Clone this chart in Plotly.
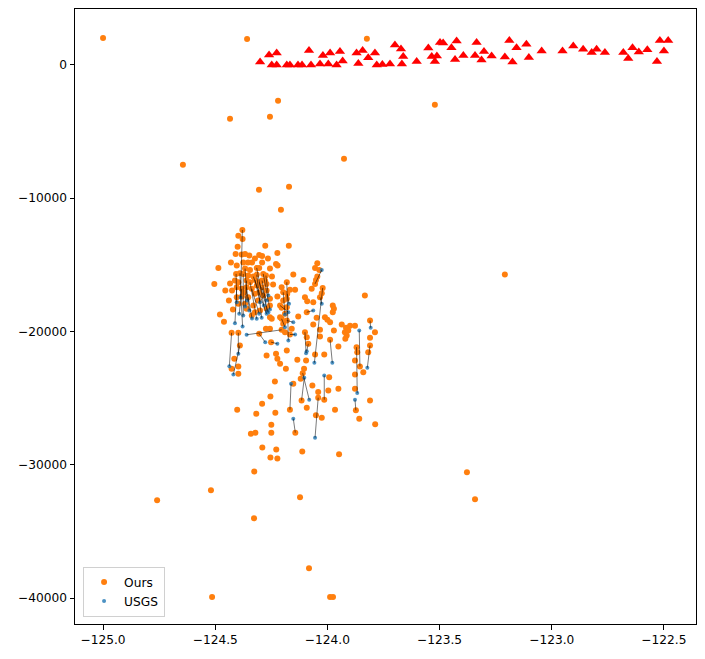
import plotly.graph_objects as go

# ---- matched events: Ours (orange) and the matching USGS event (blue) ----
ours_matched_lon = [-124.379, -124.390, -124.404, -124.360, -124.330, -124.315, -124.345, -124.304,
                    -124.286, -124.353, -124.274, -124.337, -124.407, -124.323, -124.375, -124.382,
                    -124.390, -124.427, -124.397, -124.204, -124.304, -124.251, -124.055, -124.021,
                    -124.181, -124.100, -124.092, -124.181, -124.204, -123.988, -123.855, -123.810,
                    -123.810, -124.115, -124.110, -124.014, -123.873, -123.870, -124.167, -124.143,
                    -124.041, -124.179, -124.211, -124.033, -124.197, -124.315, -124.167, -124.085,
                    -124.360, -124.293, -124.291, -124.367]
ours_matched_dep = [-12382, -15633, -16682, -16180, -15880, -15730, -16307, -16307,
                    -15678, -17431, -15805, -16801, -15678, -16127, -15678, -16801,
                    -21049, -20097, -20097, -19873, -20172, -20801, -16427, -16727,
                    -16307, -20052, -18554, -19176, -19049, -20622, -22622, -19176,
                    -21049, -25168, -23123, -25116, -25917, -21176, -25865, -27588,
                    -24966, -17176, -18052, -17431, -17056, -15228, -20225, -20921,
                    -16682, -16682, -16180, -15281]
usgs_lon = [-124.387, -124.378, -124.412, -124.367, -124.271, -124.293, -124.315, -124.263,
            -124.256, -124.336, -124.263, -124.304, -124.404, -124.300, -124.375, -124.393,
            -124.419, -124.437, -124.397, -124.360, -124.277, -124.223, -124.025, -124.058,
            -124.174, -124.095, -124.063, -124.152, -124.189, -123.978, -123.858, -123.807,
            -123.822, -124.103, -124.081, -124.014, -123.877, -123.867, -124.162, -124.152,
            -124.055, -124.171, -124.174, -124.025, -124.189, -124.283, -124.144, -124.092,
            -124.348, -124.271, -124.269, -124.358]
usgs_dep = [-17453, -19625, -19378, -18127, -18674, -18974, -19049, -18577,
            -18352, -19026, -17303, -18674, -17805, -17805, -18801, -18674,
            -23221, -22599, -21670, -20247, -20801, -20921, -15378, -22344,
            -20674, -21625, -18427, -19303, -19678, -22344, -19925, -19723,
            -22719, -23468, -25116, -23296, -25116, -24621, -23918, -26539,
            -27962, -17925, -18554, -17925, -18727, -18052, -20225, -21476,
            -18427, -17678, -18502, -17678]

# ---- Ours events without a USGS match ----
ours_other_lon = [
    -125.000, -124.358, -123.824, -124.434, -124.220, -124.256, -124.644, -123.926, -123.521,
    -124.305, -124.171, -124.207, -123.209, -123.378, -123.342, -124.759, -124.519, -124.327,
    -124.514, -124.082, -123.988, -123.975, -124.122, -123.948, -124.326,
    -124.397, -124.378, -124.400, -124.277, -124.172, -124.409, -124.382, -124.367, -124.348,
    -124.304, -124.291, -124.223, -124.375, -124.404, -124.229, -124.222, -124.486, -124.304,
    -124.345, -124.353, -124.278, -124.271, -124.504, -124.412, -124.397, -124.455, -124.315,
    -124.271, -124.204, -124.404, -124.323, -124.286, -124.256, -124.223, -124.197, -124.181,
    -124.204, -124.397, -124.367, -124.330, -124.360,
    -124.045, -124.055, -124.036, -124.152, -124.107, -124.045, -124.051, -124.167, -124.144,
    -124.070, -124.025, -124.100, -124.090, -124.063, -123.976, -123.971, -123.976, -123.833,
    -124.181, -124.130, -124.048, -124.211, -124.011, -124.000, -123.988, -123.936, -123.899,
    -123.877, -123.917, -124.063, -123.971, -123.922, -123.907, -123.914, -124.033, -124.159,
    -123.788, -123.810, -124.033,
    -124.397, -124.415, -124.427, -124.397, -124.479, -124.461, -124.323, -124.300, -124.337,
    -124.271, -124.256, -124.248, -124.189, -124.197, -124.274, -124.256, -124.271, -124.229,
    -124.223, -124.211, -124.185, -124.234, -124.181,
    -124.134, -124.095, -124.104, -124.119, -124.152, -124.092, -124.067, -124.055, -124.014,
    -123.951, -123.992, -123.996, -123.951, -123.966, -124.051, -124.025, -123.920, -123.877,
    -123.877, -123.840, -123.877, -123.810, -123.858, -124.189, -124.092, -123.867, -123.818,
    -124.041,
    -124.254, -124.291, -124.402, -124.317, -124.232, -123.787, -124.250, -124.341, -124.321,
    -124.250, -124.290, -124.228, -124.112, -124.254, -124.223,
    -124.336, -124.256, -124.242, -124.372, -124.305, -124.430, -124.439, -124.421, -124.291,
    -124.354, -124.323, -124.265, -124.247, -124.425, -124.434, -124.256, -124.309, -124.381]
ours_other_dep = [
    2022, 1948, 1970, -4045, -2697, -3895, -7491, -7041, -2996,
    -9363, -9139, -10861, -15730, -30562, -32584, -32659, -31910, -34007,
    -39925, -37753, -39925, -39925, -32434, -29213, -30510,
    -12809, -13056, -13633, -13558, -13558, -14180, -14232, -14180, -14307,
    -14255, -14330, -14105, -14831, -15056, -14929, -15056, -15228, -15228,
    -15378, -15805, -16180, -16427, -16427, -16180, -16307, -16929, -16554,
    -16929, -16682, -17431, -17176, -17303, -17550, -17378, -17678, -17550,
    -18225, -17925, -17925, -18052, -18300,
    -14884, -15228, -15378, -15730, -16127, -15880, -16127, -16876, -16876,
    -16801, -17131, -17431, -17730, -17805, -18052, -18300, -18554, -17303,
    -18180, -18876, -18974, -18929, -18929, -19124, -19303, -19476, -19573,
    -19573, -19723, -19476, -19925, -20052, -19925, -20300, -19873, -19798,
    -20052, -20472, -20374,
    -22622, -22045, -22794, -23168, -18727, -19273, -18554, -18427, -18801,
    -18300, -18929, -19049, -18674, -19423, -19798, -19798, -21798, -21670,
    -22045, -22419, -22794, -23745, -21423,
    -22120, -22172, -22794, -23543, -23918, -25715, -24045, -21723, -21723,
    -21123, -23423, -24419, -24292, -25865, -26292, -26464, -20547, -22172,
    -23221, -23049, -24292, -25168, -26539, -20052, -20427, -21550, -21550,
    -24547,
    -24869, -25416, -25865, -26165, -26090, -26966, -26989, -27663, -27588,
    -27588, -28711, -28861, -29011, -29460, -29535,
    -14831, -15281, -16478, -17078, -17078, -14831, -17678, -18352, -14831,
    -14831, -14532, -14532, -15880, -16929, -16404, -18052, -17678, -17378]

# ---- stations (red triangles) ----
station_lon = [-124.300, -124.260, -124.226, -124.248, -124.226, -124.181, -124.167, -124.131,
               -124.113, -124.082, -124.073, -124.033, -124.020, -123.996, -123.988, -123.959,
               -123.944, -123.932, -123.870, -123.862, -123.843, -123.818, -123.788, -123.780,
               -123.755, -123.721, -123.699, -123.672, -123.662, -123.668, -123.602, -123.550,
               -123.535, -123.512, -123.521, -123.498, -123.484, -123.447, -123.424, -123.431,
               -123.394, -123.335, -123.342, -123.302, -123.313, -123.268, -123.189, -123.157,
               -123.113, -123.209, -123.175, -123.102, -123.045, -122.952, -122.904, -122.860,
               -122.822, -122.800, -122.763, -122.681, -122.659, -122.640, -122.612, -122.574,
               -122.531, -122.518, -122.481, -122.500]
station_elev = [225, 749, 899, 0, 0, 0, 0, 0,
                0, 1086, 0, 75, 712, 75, 899, 0,
                1011, 300, 899, 97, 1086, 547, 899, 0,
                37, 75, 1498, 1198, 637, 75, 262, 1273,
                637, 674, 262, 1685, 1648, 1296, 1798, 412,
                712, 1685, 712, 1011, 375, 674, 1835, 1296,
                1551, 599, 225, 562, 1049, 1049, 1423, 1176,
                936, 1176, 936, 936, 487, 1296, 974, 1146,
                262, 1835, 1835, 1049]

x_tick_vals = [-125.0, -124.5, -124.0, -123.5, -123.0, -122.5]
x_tick_text = ["\u2212125.0", "\u2212124.5", "\u2212124.0", "\u2212123.5", "\u2212123.0", "\u2212122.5"]
y_tick_vals = [0, -10000, -20000, -30000, -40000]
y_tick_text = ["0", "\u221210000", "\u221220000", "\u221230000", "\u221240000"]

ours_lon = ours_matched_lon + ours_other_lon
ours_dep = ours_matched_dep + ours_other_dep

line_x, line_y = [], []
for i in range(len(usgs_lon)):
    line_x += [ours_matched_lon[i], usgs_lon[i], None]
    line_y += [ours_matched_dep[i], usgs_dep[i], None]

fig = go.Figure()
fig.add_trace(go.Scatter(x=ours_lon, y=ours_dep, mode="markers", name="Ours",
                         marker=dict(color="#ff7f0e", size=6, line=dict(width=0))))
fig.add_trace(go.Scatter(x=usgs_lon, y=usgs_dep, mode="markers", name="USGS",
                         marker=dict(color="#1f77b4", size=4, opacity=0.8, line=dict(width=0))))
fig.add_trace(go.Scatter(x=line_x, y=line_y, mode="lines", showlegend=False,
                         line=dict(color="rgba(0,0,0,0.75)", width=0.7), hoverinfo="skip"))
fig.add_trace(go.Scatter(x=station_lon, y=station_elev, mode="markers", showlegend=False,
                         marker=dict(color="red", symbol="triangle-up", size=9, line=dict(width=0))))

axis_common = dict(showgrid=False, zeroline=False, showline=True, mirror=True,
                   linecolor="black", linewidth=1, ticks="outside", ticklen=4.5,
                   tickwidth=1, tickcolor="black",
                   tickfont=dict(family="DejaVu Sans", size=12.2, color="black"))
fig.update_xaxes(range=[-125.125, -122.357], tickvals=x_tick_vals, ticktext=x_tick_text, **axis_common)
fig.update_yaxes(range=[-41944, 4195], tickvals=y_tick_vals, ticktext=y_tick_text, **axis_common)

# the page body adds an 8px offset on every side; size the figure so it fits without scrollbars
fig.update_layout(
    width=689, height=643,
    margin=dict(l=67, r=1, t=1, b=27),
    plot_bgcolor="white", paper_bgcolor="white",
    showlegend=True,
    legend=dict(x=0.013, y=0.012, xanchor="left", yanchor="bottom",
                bgcolor="rgba(255,255,255,0.8)", bordercolor="#d0d0d0", borderwidth=1,
                font=dict(family="DejaVu Sans", size=12.2, color="black"),
                itemsizing="trace", tracegroupgap=2),
)

fig.write_html("out.html")
